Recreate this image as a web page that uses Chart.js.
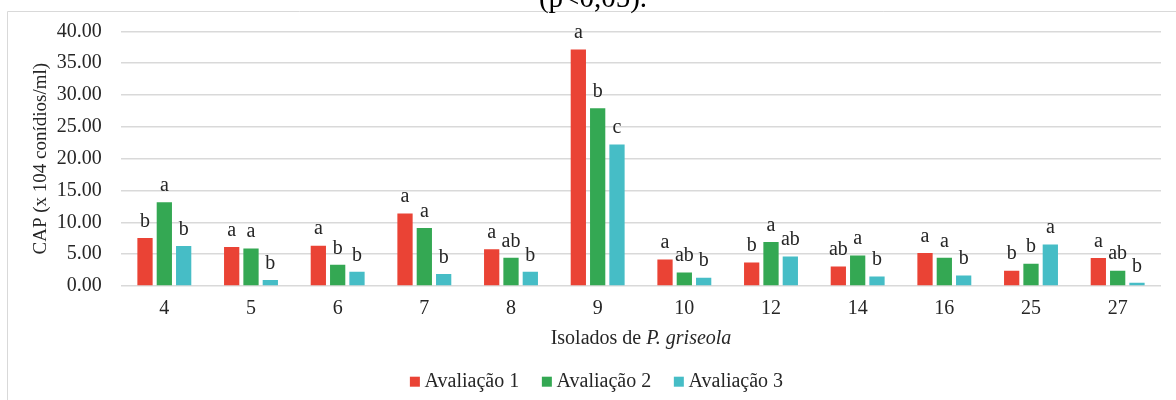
<!DOCTYPE html>
<html>
<head>
<meta charset="utf-8">
<script src="https://cdn.jsdelivr.net/npm/chart.js@4.4.1/dist/chart.umd.min.js"></script>
<style>
  html, body { margin: 0; padding: 0; background: #ffffff; overflow: hidden; }
  #wrap { position: relative; width: 1176px; height: 400px; }
  canvas { display: block; }
</style>
</head>
<body>
<div id="wrap"><canvas id="c" width="1176" height="400"></canvas></div>
<script>
// ---- data ----
const categories = ['4', '5', '6', '7', '8', '9', '10', '12', '14', '16', '25', '27'];
const seriesNames = ['Avaliação 1', 'Avaliação 2', 'Avaliação 3'];
const aval1 = [7.53, 6.13, 6.34, 11.38, 5.77, 37.14, 4.16, 3.69, 3.06, 5.20, 2.40, 4.38];
const aval2 = [13.14, 5.87, 3.32, 9.09, 4.42, 27.90, 2.13, 6.91, 4.78, 4.42, 3.50, 2.40];
const aval3 = [6.29, 0.94, 2.23, 1.87, 2.23, 22.23, 1.30, 4.62, 1.51, 1.66, 6.50, 0.50];
const letters1 = ['b', 'a', 'a', 'a', 'a', 'a', 'a', 'b', 'ab', 'a', 'b', 'a'];
const letters2 = ['a', 'a', 'b', 'a', 'ab', 'b', 'ab', 'a', 'a', 'a', 'b', 'ab'];
const letters3 = ['b', 'b', 'b', 'b', 'b', 'c', 'b', 'ab', 'b', 'b', 'a', 'b'];
const yTickValues = [0, 5, 10, 15, 20, 25, 30, 35, 40];
const captionText = '(p<0,05).';
const yTitle = 'CAP (x 104 conídios/ml)';
const xTitleNormal = 'Isolados de ';
const xTitleItalic = 'P. griseola';

const colors = ['#EA4335', '#34A853', '#46BDC6'];
const letterSets = [letters1, letters2, letters3];
const SERIF = '"Liberation Serif", "Times New Roman", serif';
const TXT = '#262626';
const FS = 20;

const decorPlugin = {
  id: 'decor',
  beforeDraw(chart) {
    const ctx = chart.ctx;
    ctx.save();
    // outer frame (partially cropped)
    ctx.strokeStyle = '#d9d9d9';
    ctx.lineWidth = 1;
    ctx.beginPath();
    ctx.moveTo(7.5, 400);
    ctx.lineTo(7.5, 11.5);
    ctx.lineTo(1176, 11.5);
    ctx.stroke();
    // cropped caption above chart
    ctx.fillStyle = '#000000';
    ctx.font = '29px ' + SERIF;
    ctx.textAlign = 'center';
    ctx.textBaseline = 'alphabetic';
    ctx.fillText(captionText, 593, 7);
    ctx.restore();
  },
  afterDatasetsDraw(chart) {
    const ctx = chart.ctx;
    ctx.save();
    ctx.fillStyle = TXT;
    ctx.font = FS + 'px ' + SERIF;
    ctx.textAlign = 'center';
    ctx.textBaseline = 'alphabetic';
    chart.data.datasets.forEach((ds, di) => {
      const meta = chart.getDatasetMeta(di);
      meta.data.forEach((el, i) => {
        ctx.fillText(letterSets[di][i], el.x, el.y - 11.3);
      });
    });
    ctx.restore();
  },
  afterDraw(chart) {
    const ctx = chart.ctx;
    const ca = chart.chartArea;
    ctx.save();
    ctx.fillStyle = TXT;
    ctx.textBaseline = 'alphabetic';
    ctx.textAlign = 'left';
    const fN = FS + 'px ' + SERIF;
    const fI = 'italic ' + FS + 'px ' + SERIF;
    // x-axis title with italic species name
    ctx.font = fN;
    const w1 = ctx.measureText(xTitleNormal).width;
    ctx.font = fI;
    const w2 = ctx.measureText(xTitleItalic).width;
    const cx = (ca.left + ca.right) / 2;
    const x0 = cx - (w1 + w2) / 2;
    ctx.font = fN;
    ctx.fillText(xTitleNormal, x0, 344);
    ctx.font = fI;
    ctx.fillText(xTitleItalic, x0 + w1, 344);

    // legend
    ctx.font = fN;
    const box = 10, gapBT = 4.7, gapItems = 22.7;
    const items = chart.data.datasets.map(ds => ({
      text: ds.label, color: ds.backgroundColor, w: ctx.measureText(ds.label).width
    }));
    const total = items.reduce((s, it) => s + box + gapBT + it.w, 0) + gapItems * (items.length - 1);
    let x = 596.5 - total / 2;
    const cy = 381.7;
    ctx.textBaseline = 'middle';
    items.forEach(it => {
      ctx.fillStyle = it.color;
      ctx.fillRect(x, cy - box / 2, box, box);
      ctx.fillStyle = TXT;
      ctx.fillText(it.text, x + box + gapBT, cy);
      x += box + gapBT + it.w + gapItems;
    });
    ctx.restore();
  }
};

new Chart(document.getElementById('c'), {
  type: 'bar',
  data: {
    labels: categories,
    datasets: [aval1, aval2, aval3].map((vals, i) => ({
      label: seriesNames[i],
      data: vals,
      backgroundColor: colors[i],
      borderWidth: 0,
      categoryPercentage: 0.669,
      barPercentage: 0.79
    }))
  },
  options: {
    responsive: false,
    devicePixelRatio: 1,
    animation: false,
    layout: { padding: { left: 32, right: 15, top: 30, bottom: 48 } },
    plugins: {
      tooltip: { enabled: false },
      title: { display: false },
      legend: { display: false }
    },
    scales: {
      x: {
        grid: { display: false, drawTicks: false },
        border: { display: false },
        ticks: { color: TXT, padding: 10.3, font: { family: SERIF, size: FS } },
        afterFit(scale) { scale.height = 66; }
      },
      y: {
        min: 0,
        max: 40,
        afterBuildTicks(scale) { scale.ticks = yTickValues.map(v => ({ value: v })); },
        grid: { color: '#d9d9d9', lineWidth: 1.5, drawTicks: false },
        border: { display: false },
        ticks: {
          color: TXT,
          padding: 19.3,
          font: { family: SERIF, size: FS },
          callback: (v) => Number(v).toFixed(2)
        },
        title: {
          display: true,
          text: yTitle,
          color: TXT,
          font: { family: SERIF, size: 19, lineHeight: 1 },
          padding: { top: 0, bottom: 0 }
        },
        afterFit(scale) { scale.width = 89; }
      }
    }
  },
  plugins: [decorPlugin]
});
</script>
</body>
</html>
